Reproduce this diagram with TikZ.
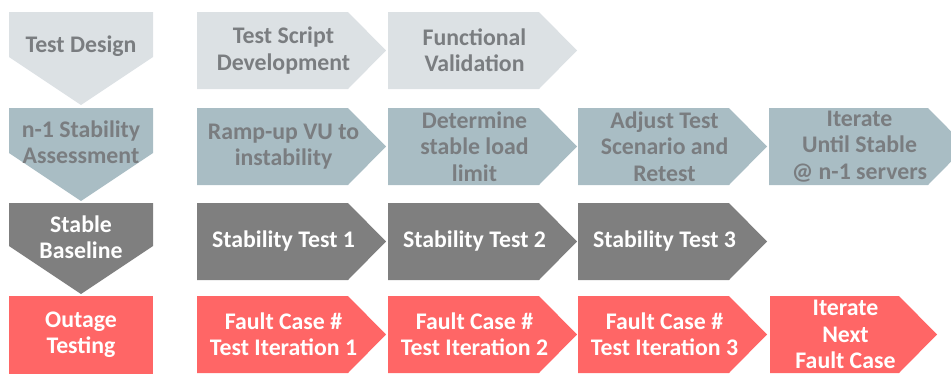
\documentclass[tikz,border=0pt]{standalone}
\usepackage{fontspec}
\setmainfont{Carlito}
\definecolor{designfill}{HTML}{DCE1E4}
\definecolor{assessfill}{HTML}{A9BDC4}
\definecolor{basefill}{HTML}{7F7F7F}
\definecolor{outagefill}{HTML}{FF6666}
\definecolor{darktext}{HTML}{7A7D80}
\tikzset{
  lbl/.style={font=\fontsize{23.8}{26.3}\selectfont\bfseries, align=center, inner sep=0pt},
}
% chevron pointing right: name, left x, top y, width to tip, fill, text colour, text
\newcommand\stagechev[7]{%
  \fill[#5] (#2,#3) -- ++(#4-38,0) -- ++(38,38.5) -- ++(-38,38.5) -- ++(-#4+38,0) -- cycle;
  \node[lbl,text=#6] (#1) at ({#2+(#4-38)/2+11},{#3+38.5}) {#7};
}
% pentagon pointing down in the left column: name, top y, body height, fill, text colour, text
\newcommand\stagedown[6]{%
  \fill[#4] (9,#2) -- (153,#2) -- (153,#2+#3) -- (81,#2+#3+48) -- (9,#2+#3) -- cycle;
  \node[lbl,text=#5] (#1) at (81,#2+34) {#6};
}
\begin{document}
\begin{tikzpicture}[x=1pt,y=-1pt]
\useasboundingbox (0,0) rectangle (951,373);
% left column: phases
\stagedown{design}{12}{45}{designfill}{darktext}{Test Design}
\stagedown{assess}{108}{45}{assessfill}{darktext}{n-1 Stability\\Assessment}
\stagedown{baseline}{203}{43}{basefill}{white}{Stable\\Baseline}
\fill[outagefill] (9,296) rectangle (153,376);
\node[lbl,text=white] (outage) at (81,335) {Outage\\Testing};
% row 1
\stagechev{script}{197}{12}{189}{designfill}{darktext}{Test Script\\Development}
\stagechev{func}{388}{12}{189}{designfill}{darktext}{Functional\\Validation}
% row 2
\stagechev{ramp}{197}{108}{189}{assessfill}{darktext}{Ramp-up VU to\\instability}
\stagechev{limit}{388}{108}{189}{assessfill}{darktext}{Determine\\stable load\\limit}
\stagechev{adjust}{578}{108}{189}{assessfill}{darktext}{Adjust Test\\Scenario and\\Retest}
\stagechev{iter}{769}{108}{197}{assessfill}{darktext}{Iterate\\Until Stable\\@ n-1 servers}
% row 3
\stagechev{st1}{197}{203}{189}{basefill}{white}{Stability Test 1}
\stagechev{st2}{388}{203}{189}{basefill}{white}{Stability Test 2}
\stagechev{st3}{578}{203}{189}{basefill}{white}{Stability Test 3}
% row 4
\stagechev{fc1}{197}{296}{189}{outagefill}{white}{Fault Case \#\\Test Iteration 1}
\stagechev{fc2}{388}{296}{189}{outagefill}{white}{Fault Case \#\\Test Iteration 2}
\stagechev{fc3}{578}{296}{189}{outagefill}{white}{Fault Case \#\\Test Iteration 3}
\stagechev{next}{770}{296}{167}{outagefill}{white}{Iterate\\Next\\Fault Case}
\end{tikzpicture}
\end{document}
